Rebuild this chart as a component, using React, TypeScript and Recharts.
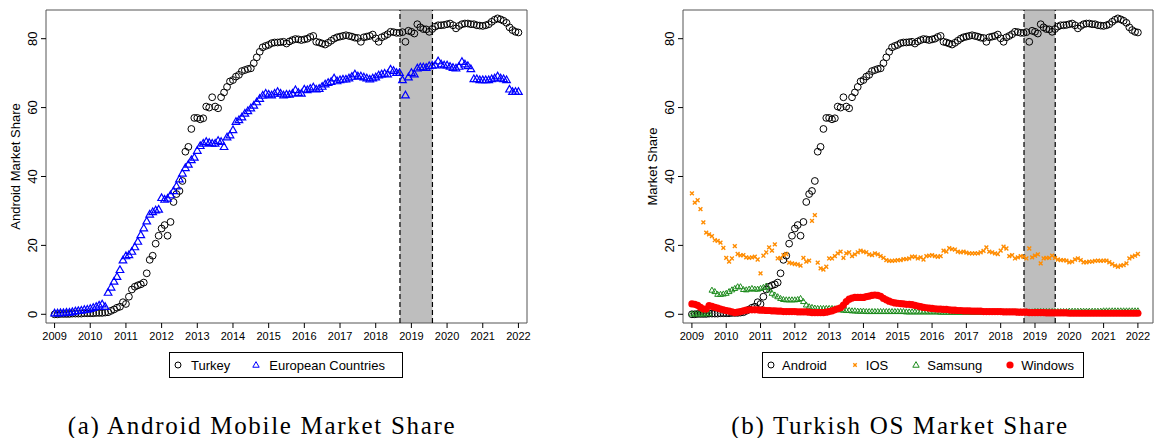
import React from 'react';
import { ScatterChart, Scatter, XAxis, YAxis, ReferenceArea, ReferenceLine, Legend } from 'recharts';

// monthly observations, Jan 2009 .. Jan 2022
const startYear = 2009;
const yearTicks = [2009, 2010, 2011, 2012, 2013, 2014, 2015, 2016, 2017, 2018, 2019, 2020, 2021, 2022];
const shareTicks = [0, 20, 40, 60, 80];

const turkeyAndroid = [
    0.0, 0.0, 0.1, 0.1, 0.1, 0.1, 0.2, 0.2, 0.2, 0.2, 0.3, 0.3,
    0.3, 0.3, 0.4, 0.4, 0.4, 0.5, 0.6, 1.0, 1.4, 1.9, 2.2, 3.5,
    3.0, 5.1, 7.2, 8.0, 8.4, 8.7, 9.2, 11.9, 15.8, 17.0, 20.5, 22.8,
    24.9, 25.9, 22.8, 26.8, 32.6, 34.9, 35.8, 38.7, 47.2, 48.6, 53.8, 57.0,
    57.0, 56.6, 56.9, 60.3, 60.0, 63.0, 60.3, 59.8, 63.0, 64.4, 66.0, 67.6,
    68.0, 69.0, 69.5, 70.6, 70.9, 71.2, 71.4, 72.9, 74.6, 76.2, 77.5, 77.9,
    78.2, 78.7, 78.9, 78.9, 79.0, 79.1, 78.6, 79.2, 79.6, 79.9, 79.8, 79.6,
    79.8, 80.0, 80.5, 80.8, 79.1, 78.9, 78.6, 78.3, 78.8, 79.4, 80.0, 80.4,
    80.6, 80.8, 81.0, 80.8, 80.6, 80.3, 80.2, 79.1, 80.4, 80.6, 80.8, 81.2,
    80.1, 79.1, 80.4, 80.8, 81.3, 82.0, 81.9, 81.7, 81.7, 81.9, 79.1, 82.3,
    82.0, 81.5, 84.2, 83.3, 82.8, 82.7, 82.0, 82.8, 83.5, 83.9, 83.9, 84.0,
    84.2, 84.4, 83.9, 83.0, 83.7, 84.2, 84.4, 84.4, 84.2, 84.2, 83.9, 83.8,
    83.7, 83.9, 84.2, 84.9, 85.5, 85.9, 85.6, 85.2, 84.6, 83.3, 82.5, 82.0,
    81.8,
];

const europeAndroid = [
    0.3, 0.3, 0.4, 0.4, 0.5, 0.5, 0.7, 0.9, 1.0, 1.1, 1.3, 1.4,
    1.6, 1.9, 2.2, 2.6, 2.9, 2.2, 6.3, 7.8, 9.5, 10.9, 12.9, 15.7,
    16.9, 17.2, 18.2, 19.5, 21.1, 23.0, 25.0, 27.0, 29.0, 29.7, 30.2, 30.4,
    33.8, 33.3, 33.6, 34.6, 35.8, 37.2, 39.2, 40.9, 42.5, 43.5, 44.8, 45.5,
    47.5, 48.9, 49.6, 50.1, 49.8, 49.6, 49.6, 50.4, 50.1, 48.6, 51.4, 52.0,
    53.5, 55.9, 56.4, 57.2, 58.3, 59.0, 59.8, 60.6, 61.6, 62.6, 63.5, 64.1,
    63.8, 63.6, 64.1, 64.6, 64.1, 63.6, 63.8, 63.8, 64.1, 65.1, 64.3, 64.1,
    65.3, 65.1, 65.5, 65.9, 65.3, 65.5, 66.1, 66.8, 67.2, 67.5, 68.5, 67.7,
    68.0, 68.2, 68.2, 68.5, 69.0, 69.7, 69.1, 69.1, 68.8, 68.5, 68.2, 68.5,
    68.8, 69.4, 69.7, 69.9, 69.7, 71.1, 70.7, 70.1, 70.1, 68.0, 63.6, 68.8,
    70.1, 69.7, 71.4, 71.7, 71.7, 71.6, 72.1, 72.2, 72.3, 73.5, 72.6, 72.3,
    72.3, 71.9, 71.6, 71.4, 71.9, 73.3, 72.6, 72.1, 71.2, 68.3, 68.3, 68.0,
    68.0, 68.0, 68.0, 68.3, 68.5, 69.1, 68.5, 68.3, 68.0, 65.3, 64.6, 64.6,
    64.6,
];

const iosShare = [
    35.1, 32.4, 33.1, 30.5, 26.7, 23.7, 23.2, 22.7, 21.5, 21.3, 20.8, 19.3,
    16.4, 15.3, 16.2, 19.8, 17.5, 17.1, 17.2, 16.5, 16.4, 16.5, 16.7, 15.9,
    11.9, 17.0, 18.0, 19.4, 18.5, 20.3, 16.2, 16.4, 17.2, 17.5, 15.0, 14.8,
    14.6, 14.5, 14.1, 16.4, 15.3, 15.6, 27.1, 28.8, 15.0, 13.3, 13.0, 13.8,
    16.2, 16.2, 16.9, 17.7, 18.2, 16.4, 17.7, 18.0, 16.9, 17.4, 18.0, 18.5,
    18.2, 18.0, 17.4, 17.2, 17.7, 17.4, 16.9, 16.4, 15.7, 15.5, 15.5, 15.6,
    15.7, 15.7, 16.0, 16.0, 16.2, 16.7, 16.7, 16.2, 16.5, 15.9, 16.9, 17.0,
    17.2, 16.9, 16.7, 16.9, 18.5, 18.2, 19.2, 18.9, 18.8, 18.2, 18.0, 18.2,
    17.9, 17.7, 17.7, 17.7, 17.7, 18.0, 18.4, 19.4, 18.2, 18.0, 17.7, 17.5,
    18.5, 19.6, 19.1, 16.9, 17.2, 16.2, 16.5, 16.9, 16.7, 16.2, 19.1, 16.5,
    17.0, 17.4, 14.8, 16.2, 16.4, 16.4, 17.0, 16.4, 15.9, 15.7, 15.7, 15.6,
    15.1, 15.3, 15.9, 16.2, 15.7, 15.1, 15.1, 15.3, 15.3, 15.5, 15.6, 15.5,
    15.6, 15.6, 15.1, 14.6, 14.1, 13.8, 14.1, 14.3, 14.8, 16.2, 16.7, 17.0,
    17.5,
];

const samsungShare = [
    0.1, 0.1, 0.1, 0.1, 0.1, 0.2, 0.2, 7.0, 6.6, 5.8, 5.8, 5.9,
    6.1, 6.6, 7.1, 7.5, 8.0, 8.0, 7.2, 7.1, 7.3, 7.5, 7.3, 7.3,
    7.5, 7.8, 8.2, 7.1, 6.1, 5.6, 5.1, 4.6, 4.3, 4.2, 4.2, 4.2,
    4.2, 4.3, 4.6, 3.7, 2.7, 2.2, 2.0, 1.8, 1.7, 1.7, 1.7, 1.7,
    1.7, 1.7, 1.6, 1.4, 1.3, 1.2, 1.1, 1.1, 1.0, 1.0, 0.9, 0.9,
    0.9, 0.8, 0.8, 0.8, 0.8, 0.8, 0.8, 0.8, 0.8, 0.8, 0.8, 0.8,
    0.8, 0.8, 0.8, 0.7, 0.7, 0.7, 0.7, 0.7, 0.7, 0.7, 0.7, 0.7,
    0.7, 0.7, 0.7, 0.6, 0.6, 0.6, 0.6, 0.6, 0.6, 0.6, 0.6, 0.6,
    0.6, 0.6, 0.6, 0.6, 0.6, 0.6, 0.6, 0.6, 0.6, 0.6, 0.6, 0.6,
    0.7, 0.7, 0.7, 0.7, 0.7, 0.7, 0.7, 0.7, 0.7, 0.7, 0.7, 0.7,
    0.8, 0.8, 0.8, 0.8, 0.8, 0.8, 0.8, 0.8, 0.8, 0.8, 0.8, 0.8,
    0.9, 0.9, 0.9, 0.9, 0.9, 0.9, 0.9, 0.9, 0.9, 0.9, 0.9, 0.9,
    1.0, 1.0, 1.0, 1.0, 1.0, 1.0, 1.0, 1.0, 1.0, 1.0, 1.0, 1.0,
    1.0,
];

const windowsShare = [
    3.0, 2.9, 2.6, 2.0, 1.5, 1.5, 2.5, 2.3, 2.0, 1.8, 1.5, 1.3,
    1.1, 0.9, 0.7, 0.5, 0.6, 0.8, 1.0, 1.2, 1.3, 1.3, 1.3, 1.3,
    1.2, 1.2, 1.1, 1.1, 1.0, 1.0, 0.9, 0.9, 0.8, 0.8, 0.8, 0.8,
    0.8, 0.7, 0.7, 0.7, 0.7, 0.6, 0.5, 0.5, 0.5, 0.5, 0.5, 0.6,
    0.8, 1.0, 1.3, 1.6, 1.9, 2.7, 3.7, 4.4, 4.7, 4.9, 4.9, 4.9,
    4.9, 5.1, 5.3, 5.5, 5.6, 5.5, 5.2, 4.6, 4.2, 3.8, 3.5, 3.3,
    3.2, 3.1, 3.0, 2.9, 2.9, 2.8, 2.6, 2.4, 2.2, 2.0, 1.9, 1.8,
    1.7, 1.6, 1.5, 1.5, 1.4, 1.4, 1.3, 1.2, 1.2, 1.1, 1.1, 1.0,
    1.0, 1.0, 0.9, 0.9, 0.9, 0.9, 0.8, 0.8, 0.8, 0.8, 0.8, 0.8,
    0.8, 0.7, 0.7, 0.7, 0.7, 0.7, 0.6, 0.6, 0.6, 0.6, 0.5, 0.5,
    0.5, 0.5, 0.5, 0.5, 0.4, 0.4, 0.4, 0.4, 0.4, 0.4, 0.4, 0.4,
    0.3, 0.3, 0.3, 0.3, 0.3, 0.3, 0.3, 0.3, 0.3, 0.3, 0.3, 0.3,
    0.3, 0.3, 0.3, 0.3, 0.3, 0.3, 0.3, 0.3, 0.3, 0.3, 0.3, 0.3,
    0.3,
];

// shaded period
const bandStart = 2018.68;
const bandEnd = 2019.59;

const FONT = '"Liberation Sans", Arial, Helvetica, sans-serif';
const SERIF = '"Liberation Serif", "Times New Roman", serif';
const Y_DOMAIN: [number, number] = [-2.53, 88.33];

const toPoints = (values: number[]) => values.map((v, i) => ({ t: startYear + i / 12, v }));

type Mark = (cx: number, cy: number) => React.ReactElement;

const openCircle = (r: number): Mark => (cx, cy) => (
    <circle cx={cx} cy={cy} r={r} fill="none" stroke="#000" strokeWidth={1} />
);
const openTriangle = (w: number, color: string, sw: number): Mark => (cx, cy) => (
    <polygon
        points={`${cx},${cy - w * 1.05} ${cx - w},${cy + w * 0.7} ${cx + w},${cy + w * 0.7}`}
        fill="none" stroke={color} strokeWidth={sw}
    />
);
const cross = (s: number, color: string): Mark => (cx, cy) => (
    <g stroke={color} strokeWidth={1.4}>
        <line x1={cx - s} y1={cy - s} x2={cx + s} y2={cy + s} />
        <line x1={cx - s} y1={cy + s} x2={cx + s} y2={cy - s} />
    </g>
);
const dot = (r: number, color: string): Mark => (cx, cy) => (
    <circle cx={cx} cy={cy} r={r} fill={color} stroke="none" />
);

interface SeriesDef {
    name: string;
    values: number[];
    mark: Mark;
    legendMark: Mark;
}

const RotatedTick = (props: any) => {
    const { x, y, payload } = props;
    const bx = x - 2;
    return (
        <text x={bx} y={y} transform={`rotate(-90 ${bx} ${y})`} textAnchor="middle"
            fontSize={13} fontFamily={FONT} fill="#000">
            {payload.value}
        </text>
    );
};

const AxisTitle = ({ text }: { text: string }) => (
    <text x={20} y={166.5} transform="rotate(-90 20 166.5)" textAnchor="middle"
        fontSize={13} fontFamily={FONT} fill="#000">
        {text}
    </text>
);

interface PanelProps {
    left: number;
    width: number;
    marginRight: number;
    xDomain: [number, number];
    yTitle: string;
    series: SeriesDef[];
    legendLeft: number;
    legendWidth: number;
    legendGap: number;
    symbolGap: number;
}

const Panel: React.FC<PanelProps> = ({ left, width, marginRight, xDomain, yTitle, series, legendLeft, legendWidth, legendGap, symbolGap }) => {
    const renderLegend = () => (
        <div style={{
            height: 26, boxSizing: 'border-box', border: '1px solid #000', display: 'flex',
            alignItems: 'center', paddingLeft: 4, fontFamily: FONT, fontSize: 13, color: '#000',
            background: '#fff', whiteSpace: 'nowrap',
        }}>
            {series.map((s, i) => (
                <div key={s.name} style={{ display: 'flex', alignItems: 'center', marginLeft: i === 0 ? 0 : legendGap }}>
                    <svg width={8} height={10} style={{ marginRight: symbolGap, overflow: 'visible' }}>{s.legendMark(4, 5)}</svg>
                    <span>{s.name}</span>
                </div>
            ))}
        </div>
    );

    return (
        <div style={{ position: 'absolute', left, top: 0 }}>
            <ScatterChart width={width} height={400} margin={{ top: 10, right: marginRight, bottom: 22, left: 0 }}>
                <XAxis type="number" dataKey="t" domain={xDomain} ticks={yearTicks} allowDataOverflow
                    interval={0} height={29} tickSize={5} tickMargin={4} axisLine={false}
                    tickLine={{ stroke: '#000' }} tick={{ fontSize: 11, fill: '#000', fontFamily: FONT }} />
                <YAxis type="number" dataKey="v" domain={Y_DOMAIN} ticks={shareTicks} allowDataOverflow
                    interval={0} width={46} tickSize={5} tickMargin={2} axisLine={false}
                    tickLine={{ stroke: '#000' }} tick={<RotatedTick />} label={<AxisTitle text={yTitle} />} />
                <ReferenceArea x1={bandStart} x2={bandEnd} fill="#bebebe" fillOpacity={1} stroke="none" />
                <ReferenceLine x={bandStart} stroke="#000" strokeWidth={1.2} strokeDasharray="5 3" />
                <ReferenceLine x={bandEnd} stroke="#000" strokeWidth={1.2} strokeDasharray="5 3" />
                <ReferenceArea x1={xDomain[0]} x2={xDomain[1]} y1={Y_DOMAIN[0]} y2={Y_DOMAIN[1]}
                    fill="none" stroke="#555" strokeWidth={1} ifOverflow="visible" />
                {series.map((s) => (
                    <Scatter key={s.name} name={s.name} data={toPoints(s.values)} isAnimationActive={false}
                        shape={(p: any) => s.mark(p.cx, p.cy)} />
                ))}
                <Legend verticalAlign="bottom" content={renderLegend}
                    wrapperStyle={{ left: legendLeft, width: legendWidth }} />
            </ScatterChart>
        </div>
    );
};

const leftSeries: SeriesDef[] = [
    { name: 'Turkey', values: turkeyAndroid, mark: openCircle(3.4), legendMark: openCircle(3) },
    { name: 'European Countries', values: europeAndroid, mark: openTriangle(3.8, '#0000ff', 1.2), legendMark: openTriangle(3.2, '#0000ff', 1) },
];

const rightSeries: SeriesDef[] = [
    { name: 'Android', values: turkeyAndroid, mark: openCircle(3.4), legendMark: openCircle(3) },
    { name: 'IOS', values: iosShare, mark: cross(1.9, '#ff8c00'), legendMark: cross(1.7, '#ff8c00') },
    { name: 'Samsung', values: samsungShare, mark: openTriangle(2.9, '#1e8c1e', 1), legendMark: openTriangle(3.2, '#1e8c1e', 1) },
    { name: 'Windows', values: windowsShare, mark: dot(3.6, '#ff0000'), legendMark: dot(3.6, '#ff0000') },
];

const captionStyle: React.CSSProperties = {
    position: 'absolute', width: 520, top: 414, lineHeight: '24px', textAlign: 'center',
    fontFamily: SERIF, fontSize: 25, letterSpacing: 1.7, color: '#000', whiteSpace: 'nowrap',
};

export default function App() {
    return (
        <div style={{ position: 'fixed', left: 0, top: 0, width: 1154, height: 438, background: '#fff', overflow: 'hidden' }}>
            <Panel left={0} width={540} marginRight={13} xDomain={[2008.76, 2022.24]} yTitle="Android Market Share"
                series={leftSeries} legendLeft={169} legendWidth={234} legendGap={22} symbolGap={9} />
            <Panel left={637} width={517} marginRight={1} xDomain={[2008.74, 2022.44]} yTitle="Market Share"
                series={rightSeries} legendLeft={125} legendWidth={322} legendGap={24} symbolGap={7} />
            <div style={{ ...captionStyle, left: 2 }}>(a) Android Mobile Market Share</div>
            <div style={{ ...captionStyle, left: 640 }}>(b) Turkish OS Market Share</div>
        </div>
    );
}
